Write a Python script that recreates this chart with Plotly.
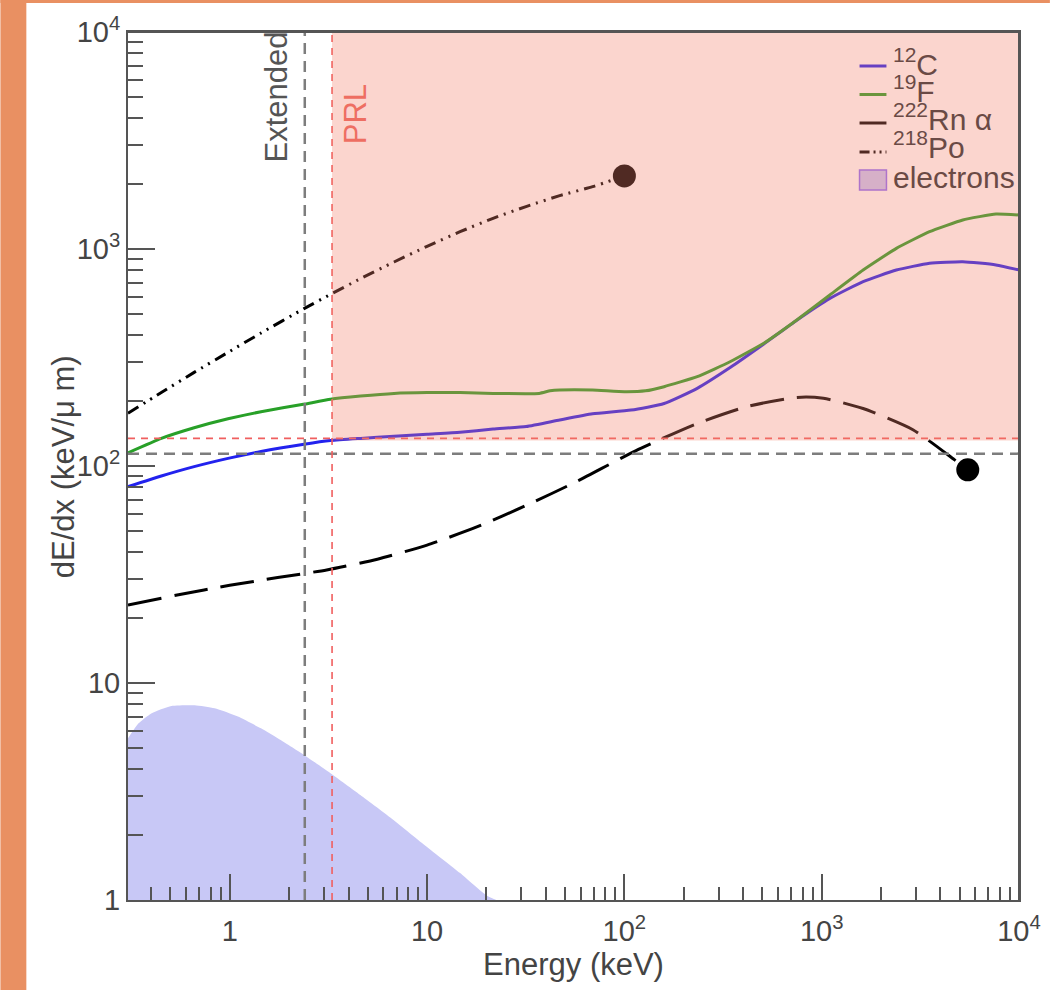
import math
import plotly.graph_objects as go

# ---------------- data ----------------
c12_energy = [0.305, 0.45, 0.66, 0.98, 1.44, 2.38, 3.24, 4.6, 6.8, 10, 14.7, 21.6, 31.8, 47, 69, 108,
              159, 234, 345, 509, 748, 1100, 1622, 2390, 3520, 5190, 7640, 10000]
c12_dedx = [80.3, 89.9, 99.3, 108.4, 116.7, 126, 131, 134, 137, 140, 143, 148, 152, 163, 174, 181,
            194, 228, 285, 365, 470, 592, 707, 800, 859, 874, 844, 800]

f19_energy = [0.305, 0.45, 0.66, 0.98, 1.44, 2.4, 3.24, 4.6, 6.8, 10, 14.7, 21.6, 37, 42, 47, 69,
              100, 128, 159, 234, 345, 509, 748, 1100, 1622, 2390, 3520, 5190, 7640, 10000]
f19_dedx = [115, 134, 150, 165, 178, 193, 203, 210, 216, 218, 218, 216, 216, 222, 224, 224,
            220, 222, 232, 258, 303, 368, 471, 614, 800, 1007, 1202, 1361, 1450, 1435]

rn_energy = [0.305, 0.55, 1.0, 1.75, 3.1, 5.6, 10, 18, 32, 57, 114, 234, 420, 750, 1020,
             1620, 2900, 4700, 5500]
rn_dedx = [22.9, 25.5, 28.2, 30.6, 33.2, 37.2, 43.2, 52.5, 66, 84.6, 117.5, 157, 188, 207, 205,
           184, 147, 107, 96]

po_energy = [0.305, 0.45, 0.66, 0.98, 1.44, 2.38, 3.24, 4.6, 6.8, 10, 14.7, 21.6, 32, 47, 69, 100]
po_dedx = [175, 218, 270, 334, 410, 531, 618, 730, 871, 1029, 1201, 1385, 1573, 1761, 1937, 2170]

electron_energy = [0.305, 0.344, 0.40, 0.506, 0.664, 0.838, 1.10, 1.44, 1.81, 2.38, 3.24, 4.59,
                   6.76, 9.96, 14.7, 20, 22.5]
electron_dedx = [5.56, 6.5, 7.24, 7.83, 7.89, 7.64, 7.0, 6.18, 5.46, 4.66, 3.84, 3.05,
                 2.34, 1.76, 1.33, 1.05, 1.0]

x_tick_vals = [1, 10, 100, 1000, 10000]
x_tick_text = ["1", "10", "10<sup>2</sup>", "10<sup>3</sup>", "10<sup>4</sup>"]
y_tick_vals = [1, 10, 100, 1000, 10000]
y_tick_text = ["1", "10", "10<sup>2</sup>", "10<sup>3</sup>", "10<sup>4</sup>"]

x_range = [0.305, 10000]
y_range = [1, 10000]

extended_energy = 2.4
prl_energy = 3.3
extended_dedx = 114
prl_dedx = 134
prl_box_bottom = 131

legend_labels = ["<sup>12</sup>C", "<sup>19</sup>F", "<sup>222</sup>Rn \u03b1",
                 "<sup>218</sup>Po", "electrons"]

x_title = "Energy (keV)"
y_title = "dE/dx (keV/\u03bc m)"

# ---------------- styling ----------------
FONT = "Liberation Sans, Arial, Helvetica, sans-serif"
C_BLUE = "rgb(34,34,238)"
C_GREEN = "rgb(40,160,40)"
C_BLACK = "rgb(0,0,0)"
C_ELEC = "rgb(200,200,246)"
C_ELEC_EDGE = "rgb(140,110,250)"
C_GRAY = "rgb(125,125,125)"
C_RED = "rgb(240,95,95)"
C_OVER = "rgb(242,127,106)"
C_ORANGE = "rgb(233,144,98)"
C_AXIS = "#555555"
C_TEXT = "#444444"

W, H = 1053, 990
L, T, R, B = 128, 32, 1022, 900


def px(x):
    return (x - L) / (R - L)


def py(y):
    return (B - y) / (B - T)


fig = go.Figure()

# electrons band (closed down to the axis floor)
fig.add_trace(go.Scatter(
    x=electron_energy + [electron_energy[-1], electron_energy[0]],
    y=electron_dedx + [y_range[0], y_range[0]],
    mode="lines", fill="toself", fillcolor=C_ELEC,
    line=dict(width=0, color=C_ELEC, shape="spline", smoothing=0.5),
    showlegend=False, hoverinfo="skip"))

fig.add_trace(go.Scatter(x=c12_energy, y=c12_dedx, mode="lines",
                         line=dict(color=C_BLUE, width=3, shape="spline", smoothing=0.5),
                         showlegend=False))
fig.add_trace(go.Scatter(x=f19_energy, y=f19_dedx, mode="lines",
                         line=dict(color=C_GREEN, width=3, shape="spline", smoothing=0.4),
                         showlegend=False))
fig.add_trace(go.Scatter(x=rn_energy, y=rn_dedx, mode="lines",
                         line=dict(color=C_BLACK, width=3, dash="34px,13px",
                                   shape="spline", smoothing=0.6),
                         showlegend=False))
fig.add_trace(go.Scatter(x=po_energy, y=po_dedx, mode="lines",
                         line=dict(color=C_BLACK, width=3,
                                   dash="12px,6px,2px,6px,2px,6px",
                                   shape="spline", smoothing=0.6),
                         showlegend=False))
fig.add_trace(go.Scatter(x=[po_energy[-1]], y=[po_dedx[-1]], mode="markers",
                         marker=dict(color=C_BLACK, size=23), showlegend=False))
fig.add_trace(go.Scatter(x=[rn_energy[-1]], y=[rn_dedx[-1]], mode="markers",
                         marker=dict(color=C_BLACK, size=23), showlegend=False))

shapes = []
# orange frame strips (page border)
shapes.append(dict(type="rect", xref="paper", yref="paper", x0=px(0), x1=px(26),
                   y0=py(H), y1=py(0), fillcolor=C_ORANGE, line=dict(width=0), layer="below"))
shapes.append(dict(type="rect", xref="paper", yref="paper", x0=px(0), x1=px(W),
                   y0=py(3), y1=py(0), fillcolor=C_ORANGE, line=dict(width=0), layer="below"))

# threshold lines
shapes.append(dict(type="line", xref="x", yref="paper", x0=extended_energy, x1=extended_energy,
                   y0=0, y1=1, line=dict(color=C_GRAY, width=2.5, dash="11px,7px"), layer="above"))
shapes.append(dict(type="line", xref="paper", yref="y", x0=0, x1=1, y0=extended_dedx,
                   y1=extended_dedx, line=dict(color=C_GRAY, width=2.5, dash="11px,7px"),
                   layer="above"))
shapes.append(dict(type="line", xref="x", yref="paper", x0=prl_energy, x1=prl_energy,
                   y0=0, y1=1, line=dict(color=C_RED, width=1.6, dash="7px,6px"), layer="above"))
shapes.append(dict(type="line", xref="paper", yref="y", x0=0, x1=1, y0=prl_dedx,
                   y1=prl_dedx, line=dict(color=C_RED, width=1.6, dash="7px,6px"), layer="above"))

# legend samples (drawn before the translucent overlay so they get tinted)
legend_rows = [66, 94.5, 123, 152]
legend_colors = [C_BLUE, C_GREEN, C_BLACK, C_BLACK]
legend_dash = ["solid", "solid", "solid", "10px,4px,2px,4px,2px,4px"]
for yy, cc, dd in zip(legend_rows, legend_colors, legend_dash):
    shapes.append(dict(type="line", xref="paper", yref="paper", x0=px(862), x1=px(889),
                       y0=py(yy), y1=py(yy), line=dict(color=cc, width=3, dash=dd),
                       layer="above"))
shapes.append(dict(type="rect", xref="paper", yref="paper", x0=px(862), x1=px(889),
                   y0=py(190), y1=py(170), fillcolor=C_ELEC,
                   line=dict(color=C_ELEC_EDGE, width=1.5), layer="above"))

# translucent PRL region
shapes.append(dict(type="rect", xref="x", yref="y", x0=prl_energy, x1=x_range[1],
                   y0=prl_box_bottom, y1=y_range[1], fillcolor=C_OVER, opacity=0.33,
                   line=dict(width=0), layer="above"))
# frame re-drawn on top of the overlay
shapes.append(dict(type="line", xref="paper", yref="paper", x0=0, x1=1, y0=1, y1=1,
                   line=dict(color=C_AXIS, width=2), layer="above"))
shapes.append(dict(type="line", xref="paper", yref="paper", x0=1, x1=1, y0=0, y1=1,
                   line=dict(color=C_AXIS, width=2), layer="above"))

annotations = []
legend_text_y = [62, 89, 117.5, 145, 177]
for yy, lab in zip(legend_text_y, legend_labels):
    annotations.append(dict(xref="paper", yref="paper", x=px(894), y=py(yy), text=lab,
                            showarrow=False, xanchor="left", yanchor="middle",
                            font=dict(family=FONT, size=30, color="#6a4a45")))
annotations.append(dict(xref="paper", yref="paper", x=px(278), y=py(97), text="Extended",
                        textangle=-90, showarrow=False, xanchor="center", yanchor="middle",
                        font=dict(family=FONT, size=31, color="#555555")))
annotations.append(dict(xref="paper", yref="paper", x=px(357), y=py(114), text="PRL",
                        textangle=-90, showarrow=False, xanchor="center", yanchor="middle",
                        font=dict(family=FONT, size=31, color="#EE6E62")))
annotations.append(dict(xref="paper", yref="paper", x=px(63), y=py(467), text=y_title,
                        textangle=-90, showarrow=False, xanchor="center", yanchor="middle",
                        font=dict(family=FONT, size=31, color=C_TEXT)))

minor_vals = [m * 10 ** d for d in range(-1, 4) for m in range(2, 10)]

fig.update_layout(
    width=W, height=H,
    margin=dict(l=L, r=W - R, t=T, b=H - B),
    paper_bgcolor="white", plot_bgcolor="white",
    font=dict(family=FONT, color=C_TEXT),
    showlegend=False,
    shapes=shapes, annotations=annotations,
    xaxis=dict(type="log", range=[math.log10(x_range[0]), math.log10(x_range[1])],
               showgrid=False, zeroline=False,
               showline=True, linecolor=C_AXIS, linewidth=2, mirror=True,
               ticks="inside", ticklen=26, tickwidth=1.5, tickcolor=C_AXIS,
               tickmode="array", tickvals=x_tick_vals, ticktext=x_tick_text,
               tickfont=dict(size=29, color=C_TEXT, family=FONT),
               ticklabelstandoff=4,
               minor=dict(tickmode="array", tickvals=minor_vals, ticks="inside",
                          ticklen=13, tickwidth=1.5, tickcolor=C_AXIS, showgrid=False),
               title=dict(text=x_title, standoff=4,
                          font=dict(size=31, color=C_TEXT, family=FONT))),
    yaxis=dict(type="log", range=[math.log10(y_range[0]), math.log10(y_range[1])],
               showgrid=False, zeroline=False,
               showline=True, linecolor=C_AXIS, linewidth=2, mirror=True,
               ticks="inside", ticklen=27, tickwidth=1.5, tickcolor=C_AXIS,
               tickmode="array", tickvals=y_tick_vals, ticktext=y_tick_text,
               tickfont=dict(size=29, color=C_TEXT, family=FONT),
               minor=dict(tickmode="array", tickvals=minor_vals, ticks="inside",
                          ticklen=15, tickwidth=1.5, tickcolor=C_AXIS, showgrid=False)),
)

fig.write_html("out.html",
               config={"displayModeBar": False},
               post_script="document.body.style.margin='0px';"
                           "document.body.style.overflow='hidden';")
